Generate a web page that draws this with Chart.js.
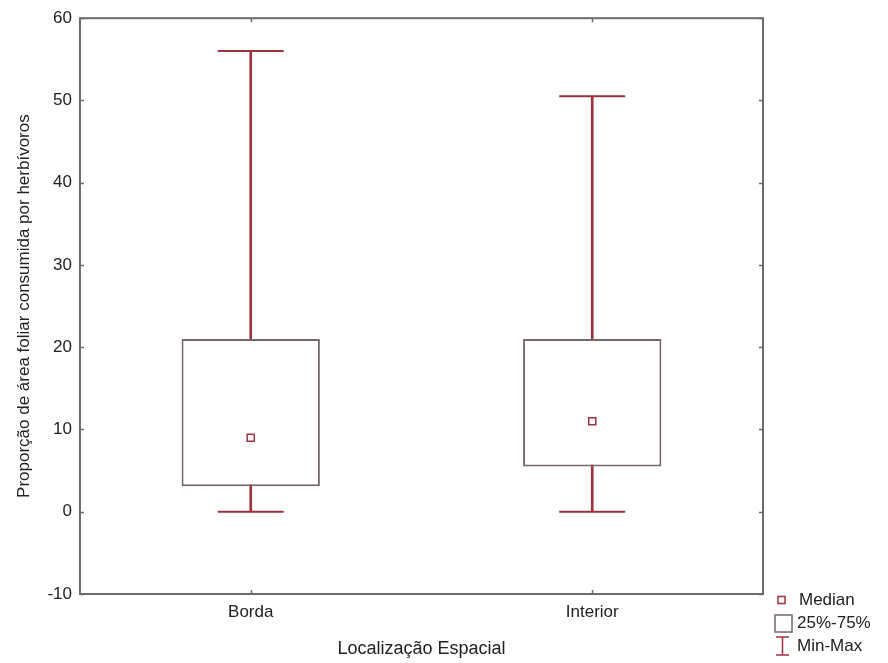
<!DOCTYPE html>
<html>
<head>
<meta charset="utf-8">
<script src="https://cdn.jsdelivr.net/npm/chart.js@4.4.1/dist/chart.umd.min.js"></script>
<style>
  html, body { margin: 0; padding: 0; background: #ffffff; }
  #wrap { width: 888px; height: 663px; }
</style>
</head>
<body>
<div id="wrap"><canvas id="c" width="888" height="663"></canvas></div>
<script>
const categories = ['Borda', 'Interior'];
const minValues = [0, 0];
const q1Values = [3.1, 5.5];
const medianValues = [9, 11];
const q3Values = [21, 21];
const maxValues = [56, 50.5];
const yTicks = [-10, 0, 10, 20, 30, 40, 50, 60];
const legendLabels = ['Median', '25%-75%', 'Min-Max'];

const FONT = '"Liberation Sans", Arial, sans-serif';
const whiskerColor = '#a0323e';
const boxColor = '#74686a';
const frameColor = '#6b6b6b';
const textColor = '#222222';

const frameAndLegend = {
  id: 'frameAndLegend',
  afterDatasetsDraw(chart) {
    const ctx = chart.ctx;
    const a = chart.chartArea;
    const ys = chart.scales.y, xs = chart.scales.x;
    ctx.save();
    ctx.strokeStyle = frameColor;
    ctx.lineWidth = 1.5;
    ctx.beginPath();
    yTicks.forEach(v => {
      const py = Math.round(ys.getPixelForValue(v)) + 0.5;
      ctx.moveTo(a.left, py); ctx.lineTo(a.left + 4, py);
      ctx.moveTo(a.right, py); ctx.lineTo(a.right - 4, py);
    });
    categories.forEach((c, i) => {
      const px = Math.round(xs.getPixelForValue(i)) + 0.5;
      ctx.moveTo(px, a.bottom); ctx.lineTo(px, a.bottom - 4);
      ctx.moveTo(px, a.top); ctx.lineTo(px, a.top + 4);
    });
    ctx.stroke();
    ctx.lineWidth = 2;
    ctx.strokeRect(a.left, a.top, a.right - a.left, a.bottom - a.top);

    const lx = a.right + 12;
    const ly = [a.bottom + 6, a.bottom + 29, a.bottom + 52];
    ctx.strokeStyle = whiskerColor;
    ctx.lineWidth = 1.5;
    ctx.strokeRect(lx + 3, ly[0] - 3.5, 7, 7);
    ctx.strokeStyle = boxColor;
    ctx.lineWidth = 1.5;
    ctx.strokeRect(lx, ly[1] - 8, 17, 17);
    ctx.strokeStyle = whiskerColor;
    ctx.lineWidth = 1.5;
    ctx.beginPath();
    ctx.moveTo(lx + 1, ly[2] - 9); ctx.lineTo(lx + 14, ly[2] - 9);
    ctx.moveTo(lx + 7.5, ly[2] - 9); ctx.lineTo(lx + 7.5, ly[2] + 9);
    ctx.moveTo(lx + 1, ly[2] + 9); ctx.lineTo(lx + 14, ly[2] + 9);
    ctx.stroke();
    ctx.fillStyle = textColor;
    ctx.font = '17px ' + FONT;
    ctx.textBaseline = 'middle';
    ctx.textAlign = 'left';
    ctx.fillText(legendLabels[0], lx + 24, ly[0]);
    ctx.fillText(legendLabels[1], lx + 22, ly[1]);
    ctx.fillText(legendLabels[2], lx + 22, ly[2]);
    ctx.restore();
  }
};

const pairs = (a, b) => a.map((v, i) => [v, b[i]]);

new Chart(document.getElementById('c'), {
  type: 'bar',
  data: {
    labels: categories,
    datasets: [
      {
        label: '25%-75%',
        data: pairs(q1Values, q3Values),
        backgroundColor: '#ffffff',
        borderColor: boxColor,
        borderWidth: 2,
        borderSkipped: false,
        grouped: false,
        barPercentage: 0.405,
        categoryPercentage: 1,
        order: 1
      },
      {
        label: 'Min-Max',
        data: pairs(minValues, maxValues),
        backgroundColor: whiskerColor,
        borderWidth: 0,
        grouped: false,
        barThickness: 2,
        order: 2
      },
      {
        type: 'line',
        label: 'Median',
        data: medianValues,
        showLine: false,
        pointStyle: 'rect',
        pointRadius: 5,
        pointBackgroundColor: '#ffffff',
        pointBorderColor: whiskerColor,
        pointBorderWidth: 1.5,
        order: 0
      },
      {
        type: 'line',
        label: 'Max',
        data: maxValues,
        showLine: false,
        pointStyle: 'line',
        pointRadius: 33,
        pointBorderColor: whiskerColor,
        pointBorderWidth: 2,
        order: 0
      },
      {
        type: 'line',
        label: 'Min',
        data: minValues,
        showLine: false,
        pointStyle: 'line',
        pointRadius: 33,
        pointBorderColor: whiskerColor,
        pointBorderWidth: 2,
        order: 0
      }
    ]
  },
  options: {
    responsive: false,
    animation: false,
    devicePixelRatio: 1,
    layout: { autoPadding: false, padding: { top: 18, right: 125, bottom: 0, left: 6 } },
    plugins: { legend: { display: false }, tooltip: { enabled: false } },
    scales: {
      x: {
        offset: true,
        grid: { display: false, drawTicks: false },
        border: { display: false },
        ticks: { color: textColor, font: { family: FONT, size: 17 }, padding: 8 },
        title: { display: true, text: 'Localização Espacial', color: textColor,
                 font: { family: FONT, size: 18 }, padding: { top: 8, bottom: 3 } }
      },
      y: {
        min: -10, max: 60,
        afterBuildTicks: (s) => { s.ticks = yTicks.map(v => ({ value: v })); },
        grid: { display: false, drawTicks: false },
        border: { display: false },
        ticks: { color: textColor, font: { family: FONT, size: 17 }, padding: 8 },
        title: { display: true, text: 'Proporção de área foliar consumida por herbívoros', color: textColor,
                 font: { family: FONT, size: 17 }, padding: { top: 8, bottom: 5 } }
      }
    }
  },
  plugins: [frameAndLegend]
});
</script>
</body>
</html>
